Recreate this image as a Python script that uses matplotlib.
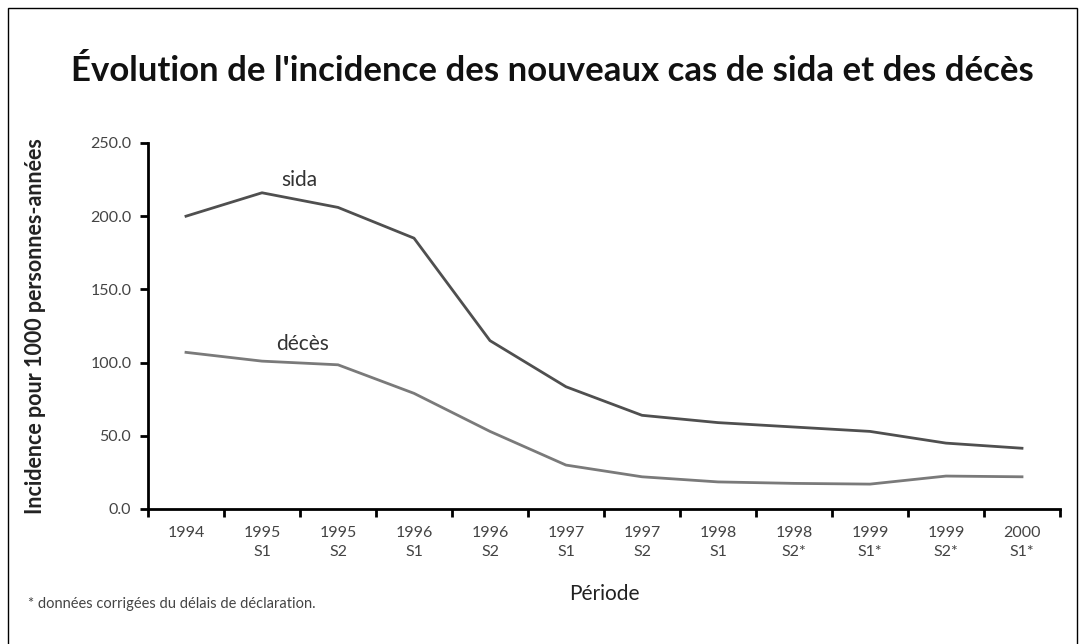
import matplotlib
matplotlib.use("Agg")
import matplotlib.pyplot as plt
from matplotlib.patches import Rectangle

# Valeurs (incidence pour 1000 personnes-années)
periodes = ["1994", "1995\nS1", "1995\nS2", "1996\nS1", "1996\nS2", "1997\nS1",
            "1997\nS2", "1998\nS1", "1998\nS2*", "1999\nS1*", "1999\nS2*", "2000\nS1*"]
sida = [200, 216, 206, 185, 115, 83.5, 64, 59, 56, 53, 45, 41.5]
deces = [107, 101, 98.5, 79, 53, 30, 22, 18.5, 17.5, 17, 22.5, 22]
y_ticks = [0, 50, 100, 150, 200, 250]

plt.rcParams['font.family'] = ['Lato', 'DejaVu Sans']

fig = plt.figure(figsize=(10.85, 6.44), dpi=100)

# cadre autour de la figure (ouvert en bas)
fig.add_artist(Rectangle((8 / 1085, -0.01), 1069 / 1085, 1 - 8 / 644 + 0.01,
                         transform=fig.transFigure, fill=False, edgecolor="black", lw=1.0))

ax = fig.add_axes([148 / 1085, 1 - 509 / 644, 912 / 1085, 366 / 644])

x = list(range(len(periodes)))
ax.plot(x, sida, color="#4f4f4f", lw=2.0)
ax.plot(x, deces, color="#7a7a7a", lw=2.0)

ax.text(1.49, 225, "sida", fontsize=15, color="#333333", ha="center", va="center")
ax.text(1.54, 113, "décès", fontsize=15, color="#333333", ha="center", va="center")

ax.set_xlim(-0.5, len(periodes) - 0.5)
ax.set_ylim(0, 250)
ax.set_yticks(y_ticks)
ax.set_yticklabels([f"{v:.1f}" for v in y_ticks], fontsize=11.5, color="#444444")

ax.set_xticks([i - 0.5 for i in range(len(periodes) + 1)])
ax.set_xticklabels([])
ax.set_xticks(x, minor=True)
ax.set_xticklabels(periodes, minor=True, fontsize=11.5, color="#444444", linespacing=1.45)
ax.tick_params(axis="x", which="minor", length=0, pad=12)
ax.tick_params(axis="x", which="major", length=6, width=2, direction="out")
ax.tick_params(axis="y", length=6, width=2, direction="out", pad=6)

for side in ["top", "right"]:
    ax.spines[side].set_visible(False)
ax.spines["left"].set_linewidth(2)
ax.spines["bottom"].set_linewidth(2)

ax.set_ylabel("Incidence pour 1000 personnes-années", fontsize=15.5, fontweight="bold",
              color="#222222")
ax.yaxis.set_label_coords(-0.112, 0.5)
ax.set_xlabel("Période", fontsize=15, color="#222222")
ax.xaxis.set_label_coords(0.5, -0.205)

fig.text(552 / 1085, 1 - 71 / 644, "Évolution de l'incidence des nouveaux cas de sida et des décès",
         ha="center", va="center", fontsize=25, fontweight="bold", color="#111111")
fig.text(28 / 1085, 1 - 604 / 644, "* données corrigées du délais de déclaration.",
         ha="left", va="center", fontsize=10.5, color="#444444")

fig.savefig("out.png", dpi=100)
